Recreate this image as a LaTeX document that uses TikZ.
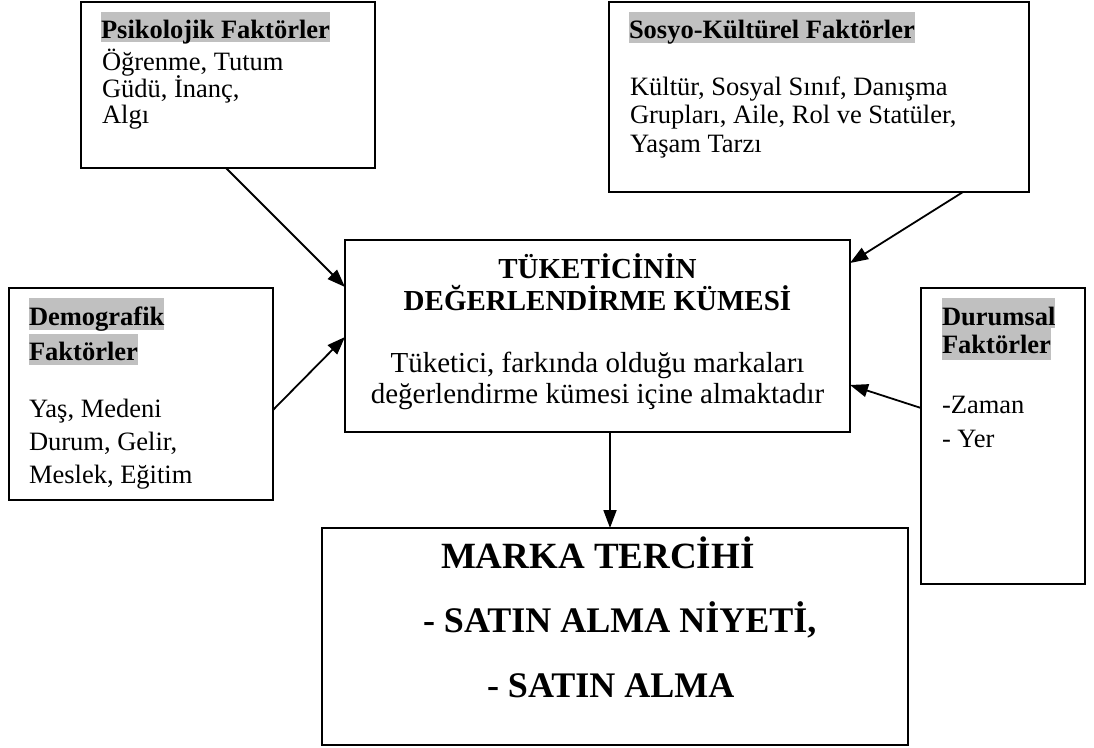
\documentclass[tikz,border=0pt]{standalone}
\usepackage{fontspec}
\setmainfont{Liberation Serif}
\usetikzlibrary{arrows.meta,calc}
\definecolor{hlgray}{RGB}{192,192,192}
\begin{document}
\begin{tikzpicture}[x=1pt,y=-1pt,
  box/.style={draw=black, line width=1.9pt, inner sep=0pt, outer sep=0pt, anchor=north west},
  txt/.style={inner sep=0pt, outer sep=0pt, anchor=base west, font=\fontsize{26.5}{30}\selectfont},
  hdr/.style={txt, fill=hlgray, font=\fontsize{26.5}{30}\selectfont\bfseries},
  ctxt/.style={inner sep=0pt, outer sep=0pt, anchor=base, font=\fontsize{29}{33}\selectfont},
  cbold/.style={ctxt, font=\fontsize{29}{33}\selectfont\bfseries},
  mtxt/.style={inner sep=0pt, outer sep=0pt, anchor=base west, font=\fontsize{36}{40}\selectfont\bfseries},
  link/.style={draw=black, line width=1.8pt, -{Triangle[length=18pt,width=13pt]}}
]
\useasboundingbox (0,0) rectangle (1094,747);
\fill[white] (0,0) rectangle (1094,747);

% boxes
\node[box, minimum width=294pt, minimum height=166pt] (psi) at (81,2) {};
\node[box, minimum width=420pt, minimum height=190pt] (sos) at (609,2) {};
\node[box, minimum width=264pt, minimum height=212pt] (dem) at (9,288) {};
\node[box, minimum width=164pt, minimum height=296pt] (dur) at (921,288) {};
\node[box, minimum width=505pt, minimum height=192pt] (cen) at (345,240) {};
\node[box, minimum width=586pt, minimum height=217pt] (mar) at (322,528) {};

% psychological factors
\node[hdr, text height=26pt, text depth=4pt] (psiH) at (101,38) {Psikolojik Faktörler};
\node[txt] (psi1) at (102,70) {Öğrenme, Tutum};
\node[txt] (psi2) at (102,97) {Güdü, İnanç,};
\node[txt] (psi3) at (102,123) {Algı};

% socio-cultural factors
\node[hdr, text height=26pt, text depth=5pt] (sosH) at (629,38) {Sosyo-Kültürel Faktörler};
\node[txt] (sos1) at (630,95) {Kültür, Sosyal Sınıf, Danışma};
\node[txt] (sos2) at (630,123) {Grupları, Aile, Rol ve Statüler,};
\node[txt] (sos3) at (630,152) {Yaşam Tarzı};

% demographic factors
\node[hdr, text height=27pt, text depth=5pt] (demH1) at (29,325) {Demografik};
\node[hdr, text height=26pt, text depth=5pt] (demH2) at (29,360) {Faktörler};
\node[txt] (dem1) at (29,417) {Yaş, Medeni};
\node[txt] (dem2) at (29,450) {Durum, Gelir,};
\node[txt] (dem3) at (29,483) {Meslek, Eğitim};

% situational factors
\node[hdr, text height=27pt, text depth=3pt] (durH1) at (942,325) {Durumsal};
\node[hdr, text height=25pt, text depth=7pt] (durH2) at (942,353) {Faktörler};
\node[txt] (dur1) at (942,413) {-Zaman};
\node[txt] (dur2) at (942,447) {- Yer};

% evaluation set
\node[cbold] (cen1) at (597.5,278) {TÜKETİCİNİN};
\node[cbold] (cen2) at (597.5,310) {DEĞERLENDİRME KÜMESİ};
\node[ctxt] (cen3) at (597.5,372) {Tüketici, farkında olduğu markaları};
\node[ctxt] (cen4) at (597.5,403) {değerlendirme kümesi içine almaktadır};

% brand preference
\node[mtxt, font=\fontsize{37}{40}\selectfont\bfseries] (mar1) at (441,568) {MARKA TERCİHİ};
\node[mtxt] (mar2) at (423,632) {- SATIN ALMA NİYETİ,};
\node[mtxt] (mar3) at (487,697) {- SATIN ALMA};

% connectors
\draw[link] ($(psi.south west)+(145,0)$) -- ($(cen.north west)+(0,47)$);
\draw[link] ($(dem.north east)+(0,122)$) -- ($(cen.north west)+(0,97)$);
\draw[link] ($(sos.south west)+(354,0)$) -- ($(cen.north east)+(0,23)$);
\draw[link] ($(dur.north west)+(0,120)$) -- ($(cen.north east)+(0,145)$);
\draw[link] ($(cen.south west)+(265,0)$) -- ($(mar.north west)+(288,0)$);
\end{tikzpicture}
\end{document}
